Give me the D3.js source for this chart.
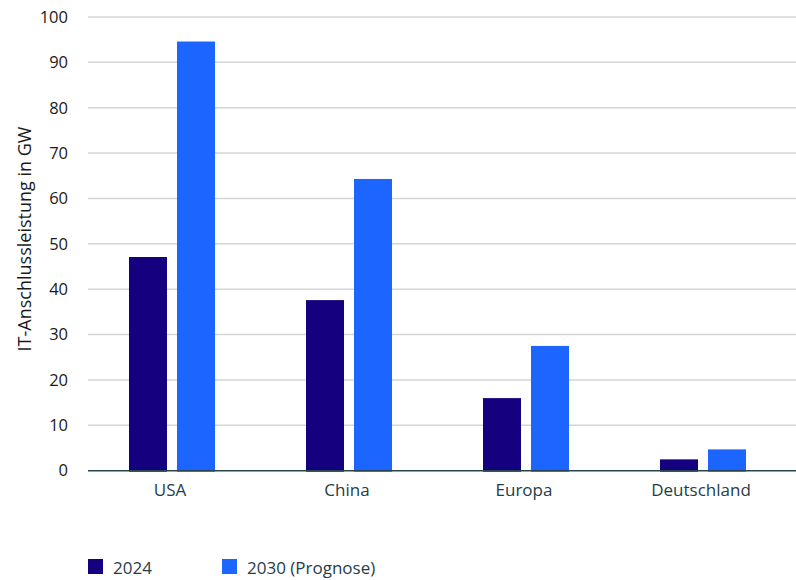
<!DOCTYPE html>
<html><head><meta charset="utf-8">
<script src="https://cdn.jsdelivr.net/npm/d3@7"></script>
<style>
html,body{margin:0;padding:0;background:#fff;}
svg{display:block;font-family:"Open Sans","Noto Sans",sans-serif;}
</style></head>
<body>
<svg id="chart" width="796" height="580"></svg>
<script>
const categories = ["USA", "China", "Europa", "Deutschland"];
const seriesNames = ["2024", "2030 (Prognose)"];
const values2024 = [47.1, 37.6, 16.0, 2.5];
const values2030 = [94.6, 64.3, 27.5, 4.7];
const yTicks = [0, 10, 20, 30, 40, 50, 60, 70, 80, 90, 100];
const colors = ["#150080", "#1c66ff"];
const yTitle = "IT-Anschlussleistung in GW";

const svg = d3.select("#chart");
const gridLeft = 88, gridRight = 796;
const y = d3.scaleLinear().domain([0, 100]).range([470.7, 17]);
const x = d3.scaleBand().domain(categories).range([83.5, 791.5]);
const barW = 38, gap = 10;

// gridlines
svg.append("g").selectAll("line").data(yTicks.filter(d => d > 0)).join("line")
  .attr("x1", gridLeft).attr("x2", gridRight)
  .attr("y1", d => y(d)).attr("y2", d => y(d))
  .attr("stroke", "#d6d6d6").attr("stroke-width", 1.5);

// y tick labels
svg.append("g").selectAll("text").data(yTicks).join("text")
  .attr("x", 68).attr("y", d => y(d)).attr("dy", "0.35em")
  .attr("text-anchor", "end").attr("font-size", 16.5).attr("fill", "#1a1a1a")
  .text(d => d);

// y title
svg.append("text")
  .attr("transform", `translate(31,239) rotate(-90)`)
  .attr("text-anchor", "middle").attr("font-size", 18).attr("fill", "#1a1a1a")
  .text(yTitle);

// bars
const series = [values2024, values2030];
series.forEach((vals, si) => {
  svg.append("g").selectAll("rect").data(categories).join("rect")
    .attr("x", (c) => x(c) + x.bandwidth() / 2 - barW - gap / 2 + si * (barW + gap))
    .attr("width", barW)
    .attr("y", (c, i) => y(vals[i]))
    .attr("height", (c, i) => y(0) - y(vals[i]) + 1)
    .attr("fill", colors[si]);
});

// baseline
svg.append("line").attr("x1", gridLeft).attr("x2", gridRight)
  .attr("y1", y(0)).attr("y2", y(0)).attr("stroke", "#2a444c").attr("stroke-width", 1.5);

// category labels
svg.append("g").selectAll("text").data(categories).join("text")
  .attr("x", c => x(c) + x.bandwidth() / 2 - 2).attr("y", 495.5)
  .attr("text-anchor", "middle").attr("font-size", 17).attr("fill", "#263d45")
  .text(d => d);

// legend
const legX = [88, 222];
seriesNames.forEach((name, i) => {
  svg.append("rect").attr("x", legX[i]).attr("y", 559).attr("width", 15).attr("height", 15).attr("fill", colors[i]);
  svg.append("text").attr("x", legX[i] + 25).attr("y", 574)
    .attr("font-size", 17).attr("fill", "#263d45").text(name);
});
</script>
</body></html>
